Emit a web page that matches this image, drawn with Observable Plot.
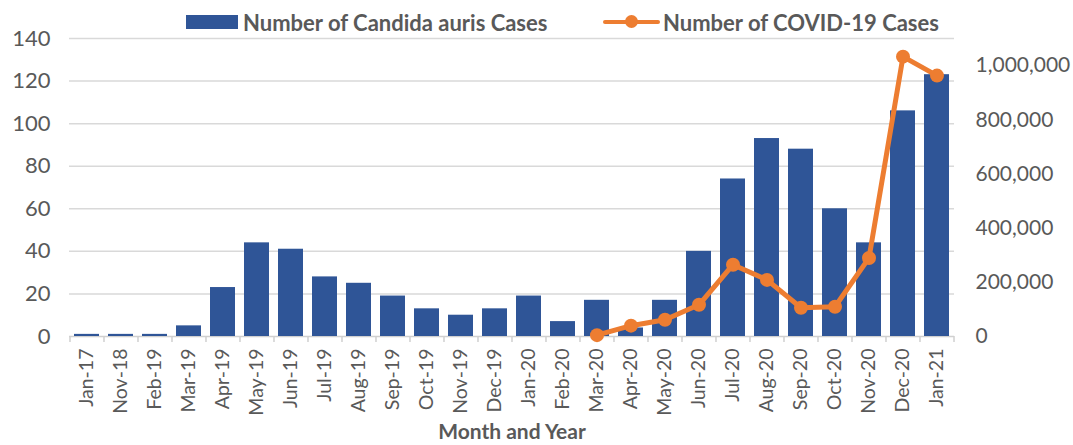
<!DOCTYPE html>
<html>
<head>
<meta charset="utf-8">
<script src="https://cdn.jsdelivr.net/npm/d3@7"></script>
<script src="https://cdn.jsdelivr.net/npm/@observablehq/plot@0.6"></script>
<style>
  html, body { margin: 0; padding: 0; background: #fff; }
  body { width: 1073px; height: 445px; position: relative; overflow: hidden; font-family: Lato, "Open Sans", sans-serif; }
  #legend { position: relative; height: 28px; width: 1073px; color: #595959; font-weight: bold; font-size: 22px; }
  .item { position: absolute; top: 8px; height: 28px; display: flex; align-items: center; white-space: nowrap; }
  .sw-bar { width: 52px; height: 14px; background: #2F5597; margin-right: 5px; }
  .sw-line { position: relative; width: 57px; height: 14px; margin-right: 3px; }
  .sw-line .ln { position: absolute; left: 0; right: 0; top: 5px; height: 4px; background: #ED7D31; border-radius: 2px; }
  .sw-line .dt { position: absolute; left: 22px; top: 0; width: 13px; height: 13px; border-radius: 50%; background: #ED7D31; }
</style>
</head>
<body>
<div id="legend"></div>
<div id="chart"></div>
<script>
// ---- data ----
const months = ["Jan-17","Nov-18","Feb-19","Mar-19","Apr-19","May-19","Jun-19","Jul-19","Aug-19","Sep-19","Oct-19","Nov-19","Dec-19","Jan-20","Feb-20","Mar-20","Apr-20","May-20","Jun-20","Jul-20","Aug-20","Sep-20","Oct-20","Nov-20","Dec-20","Jan-21"];
const candidaCases = [1,1,1,5,23,44,41,28,25,19,13,10,13,19,7,17,4,17,40,74,93,88,60,44,106,123];
const covidCases = [null,null,null,null,null,null,null,null,null,null,null,null,null,null,null,5000,40000,62000,117000,265000,209000,106000,110000,290000,1033000,963000];
const leftTicks = [0,20,40,60,80,100,120,140];
const rightTicks = [0,200000,400000,600000,800000,1000000];
const seriesNames = ["Number of Candida auris Cases","Number of COVID-19 Cases"];
const xTitle = ["Month and Year"];

// ---- legend ----
const legend = document.getElementById("legend");
legend.innerHTML =
  `<div class="item" style="left:186px"><div class="sw-bar"></div><span>${seriesNames[0]}</span></div>` +
  `<div class="item" style="left:603px"><div class="sw-line"><div class="ln"></div><div class="dt"></div></div><span>${seriesNames[1]}</span></div>`;

// ---- chart ----
const leftMax = 140, rightMax = 1100000;
const k = leftMax / rightMax;
const data = months.map((m, i) => ({month: m, candida: candidaCases[i], covid: covidCases[i]}));
const covidData = data.filter(d => d.covid != null);

const W = 1073, H = 417, ML = 69, MR = 119, MT = 10, MB = 109;
const step = (W - ML - MR) / months.length;

const chart = Plot.plot({
  width: W, height: H,
  marginLeft: ML, marginRight: MR, marginTop: MT, marginBottom: MB,
  style: {color: "#595959", fontFamily: "Lato, 'Open Sans', sans-serif", background: "#fff", overflow: "visible"},
  x: {type: "band", domain: months, paddingInner: 0.27, paddingOuter: 0.135},
  y: {domain: [0, leftMax]},
  marks: [
    Plot.ruleY(leftTicks.filter(t => t > 0), {stroke: "#d9d9d9", strokeWidth: 1.5}),
    Plot.ruleY([0], {stroke: "#d0d0d0", strokeWidth: 1.5}),
    Plot.ruleX(months, {x: d => d, y1: 0, y2: 0, insetBottom: -6, dx: -step / 2, stroke: "#d0d0d0", strokeWidth: 1.5}),
    Plot.ruleX(months.slice(-1), {x: d => d, y1: 0, y2: 0, insetBottom: -6, dx: step / 2, stroke: "#d0d0d0", strokeWidth: 1.5}),
    Plot.barY(data, {x: "month", y: "candida", fill: "#2F5597"}),
    Plot.line(covidData, {x: "month", y: d => d.covid * k, stroke: "#ED7D31", strokeWidth: 5, strokeLinejoin: "round", strokeLinecap: "round"}),
    Plot.dot(covidData, {x: "month", y: d => d.covid * k, r: 7, fill: "#ED7D31", stroke: "none"}),
    Plot.axisY({anchor: "left", ticks: leftTicks, tickSize: 0, tickPadding: 19, fontSize: 22, label: null}),
    Plot.axisY({anchor: "right", ticks: rightTicks.map(v => v * k), tickFormat: d => d3.format(",")(Math.round(d / k / 1000) * 1000), tickSize: 0, tickPadding: 21, fontSize: 21, label: null}),
    Plot.axisX({tickSize: 0, tickRotate: -90, tickPadding: 12, fontSize: 19.5, label: null}),
    Plot.text(xTitle, {frameAnchor: "bottom", text: d => d, dy: 96, lineAnchor: "middle", fontWeight: "bold", fontSize: 21, fill: "#595959"})
  ]
});
document.getElementById("chart").appendChild(chart);
</script>
</body>
</html>
